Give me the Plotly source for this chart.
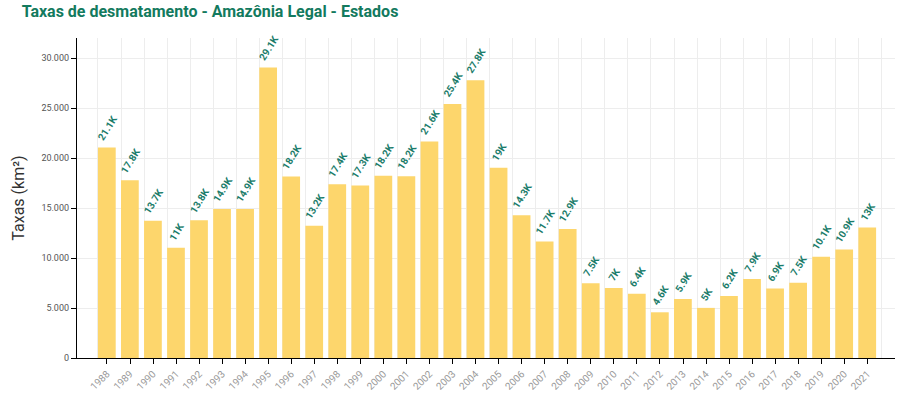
import plotly.graph_objects as go

years = [str(y) for y in range(1988, 2022)]
taxas = [21050, 17770, 13730, 11030, 13786, 14896, 14896, 29059, 18161, 13227,
         17383, 17259, 18226, 18165, 21640, 25396, 27772, 19014, 14286, 11651,
         12911, 7464, 7000, 6418, 4571, 5891, 5012, 6207, 7893, 6947,
         7536, 10129, 10851, 13038]

def fmt_k(v):
    s = f"{v/1000:.1f}"
    if s.endswith(".0"):
        s = s[:-2]
    return "\u00a0" + s + "K"

labels = [fmt_k(v) for v in taxas]
idx = list(range(len(years)))

fig = go.Figure(go.Bar(
    x=idx, y=taxas, text=labels, textposition="outside", textangle=-58,
    cliponaxis=False, width=0.77, offset=-0.39,
    marker=dict(color="#FDD66C", line=dict(width=0)),
    textfont=dict(family="Roboto", size=10, color="#1B7C6A", weight="bold"),
    hoverinfo="x+y",
))

fig.update_layout(
    width=902, height=395,
    margin=dict(l=77, r=7, t=38, b=37, autoexpand=False),
    paper_bgcolor="white", plot_bgcolor="white",
    separators=",.",
    showlegend=False,
    uniformtext=dict(minsize=10, mode="show"),
    title=dict(text="<b>Taxas de desmatamento - Amazônia Legal - Estados</b>",
               x=0.024, xanchor="left", y=0.985, yanchor="top",
               font=dict(family="Roboto", size=16, color="#137A5E")),
    font=dict(family="Roboto"),
)

fig.update_xaxes(
    range=[-1.3, 34.2], tickmode="array", tickvals=idx, ticktext=years,
    tickangle=-45, tickfont=dict(size=10, color="#999"),
    showline=True, linecolor="black", linewidth=1.3,
    ticks="outside", ticklen=5, tickcolor="black",
    showgrid=False, zeroline=False, automargin=False,
    minor=dict(tick0=-0.39, dtick=1, showgrid=True, gridcolor="#EDEDED", gridwidth=1, ticks=""),
)

fig.update_yaxes(
    range=[0, 32000], tickvals=[0, 5000, 10000, 15000, 20000, 25000, 30000],
    tickformat=",d", tickfont=dict(size=9, color="#555"),
    showline=True, linecolor="black", linewidth=1.3,
    ticks="outside", ticklen=5, tickcolor="black",
    showgrid=True, gridcolor="#EDEDED", zeroline=False, automargin=False,
    title=dict(text="Taxas (km²)", font=dict(size=16, color="#333"), standoff=12),
)

fig.write_html("out.html", config={"displayModeBar": False},
               post_script="document.body.style.margin='0';")
